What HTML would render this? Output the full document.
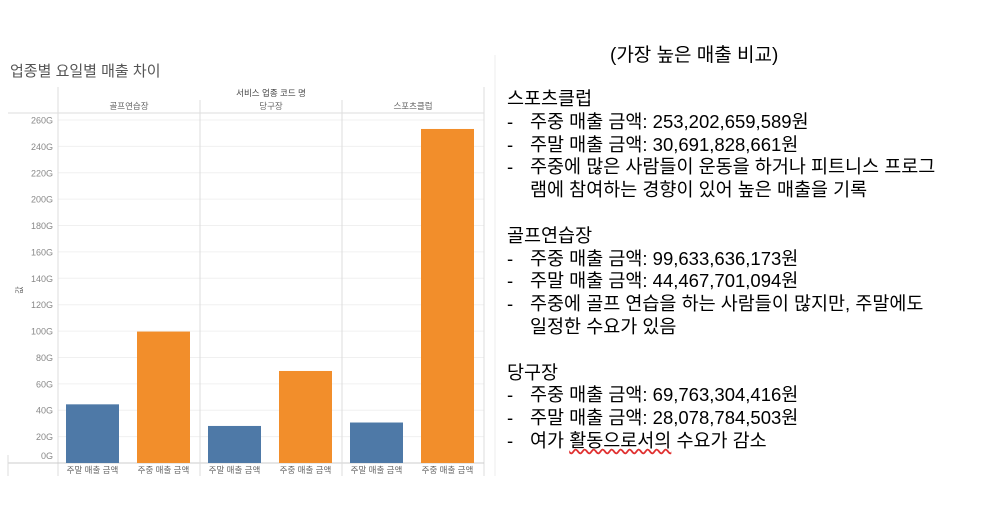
<!DOCTYPE html>
<html><head><meta charset="utf-8">
<style>
body{margin:0;width:992px;height:527px;background:#fff;overflow:hidden;font-family:"Liberation Sans","Noto Sans CJK KR",sans-serif;}
#notes{position:absolute;left:507px;top:88px;font-size:18.5px;line-height:22.8px;color:#000;}
#notes div{white-space:nowrap;}
.li{position:relative;padding-left:23px;}
.li:before{content:"-";position:absolute;left:0;}
.gap{height:22.8px;}
</style></head><body>
<div style="position:absolute;left:0;width:1400px;top:40px;text-align:center;font-size:19px;left:0;"><span style="position:absolute;left:610px;white-space:nowrap">(가장 높은 매출 비교)</span></div>
<svg id="chart" width="500" height="490" style="position:absolute;left:0;top:0" font-family="Liberation Sans, Noto Sans CJK KR, sans-serif"></svg>
<div id="notes">
<div>스포츠클럽</div>
<div class="li">주중 매출 금액: 253,202,659,589원</div>
<div class="li">주말 매출 금액: 30,691,828,661원</div>
<div class="li">주중에 많은 사람들이 운동을 하거나 피트니스 프로그<br>램에 참여하는 경향이 있어 높은 매출을 기록</div>
<div class="gap"></div>
<div>골프연습장</div>
<div class="li">주중 매출 금액: 99,633,636,173원</div>
<div class="li">주말 매출 금액: 44,467,701,094원</div>
<div class="li">주중에 골프 연습을 하는 사람들이 많지만, 주말에도<br>일정한 수요가 있음</div>
<div class="gap"></div>
<div>당구장</div>
<div class="li">주중 매출 금액: 69,763,304,416원</div>
<div class="li">주말 매출 금액: 28,078,784,503원</div>
<div class="li">여가 <span style="text-decoration:underline wavy #e03030">활동으로서의</span> 수요가 감소</div>
</div>
<script>
const categories=["골프연습장","당구장","스포츠클럽"];
const measures=["주말 매출 금액","주중 매출 금액"];
const weekendValues=[44.47,28.08,30.69];
const weekdayValues=[99.63,69.76,253.2];
const tickValues=[0,20,40,60,80,100,120,140,160,180,200,220,240,260];
const NS="http://www.w3.org/2000/svg";
const svg=document.getElementById('chart');
const X0=58,X1=484,Y0=463,YT=120,MAXV=260;
const y=v=>Y0-(v/MAXV)*(Y0-YT);
const pw=(X1-X0)/categories.length;
function mk(t,a,txt){const e=document.createElementNS(NS,t);for(const k in a)e.setAttribute(k,a[k]);if(txt!==undefined)e.textContent=txt;svg.appendChild(e);return e;}
let e;
e=mk('text',{x:10,y:76,'font-size':15,fill:'#555'},'업종별 요일별 매출 차이');


// gridlines & ticks
tickValues.forEach(v=>{
 e=mk('line',{x1:X0,x2:X1,y1:y(v),y2:y(v),stroke:'#f0f0f0'});
 
 
 e=mk('text',{x:53,y:(v===0?y(v)-4:y(v)+3.5),'font-size':9,fill:'#888','text-anchor':'end'},v+'G');
 
 
});
e=mk('text',{x:22,y:290,'font-size':8,fill:'#666','text-anchor':'middle',transform:'rotate(-90 22 290)'},'값');


e=mk('text',{x:(X0+X1)/2,y:96,'font-size':8.5,fill:'#444','text-anchor':'middle'},'서비스 업종 코드 명');


// frame lines
mk('line',{x1:X0,x2:X0,y1:87,y2:476,stroke:'#ddd'});
mk('line',{x1:X1,x2:X1,y1:87,y2:476,stroke:'#ddd'});
mk('line',{x1:495,x2:495,y1:55,y2:476,stroke:'#eee'});
mk('line',{x1:8,x2:X1,y1:113,y2:113,stroke:'#ddd'});
mk('line',{x1:8,x2:X1,y1:Y0,y2:Y0,stroke:'#ccc'});
mk('line',{x1:8,x2:8,y1:455,y2:476,stroke:'#ddd'});
categories.forEach((c,i)=>{
 const px=X0+i*pw;
 if(i>0){e=mk('line',{x1:px,x2:px,y1:100,y2:476,stroke:'#ddd'});}
 e=mk('text',{x:px+pw/2,y:109,'font-size':8.5,fill:'#666','text-anchor':'middle'},c);
 
 
 [weekendValues[i],weekdayValues[i]].forEach((v,j)=>{
  const bx=px+8+j*71;
  e=mk('rect',{x:bx,y:y(v),width:53,height:Y0-y(v),fill:j?'#f28e2b':'#4e79a7'});
  
  
  e=mk('text',{x:bx+26.5,y:473,'font-size':8.5,fill:'#666','text-anchor':'middle'},measures[j]);
  
  
 });
});
</script>
</body></html>
